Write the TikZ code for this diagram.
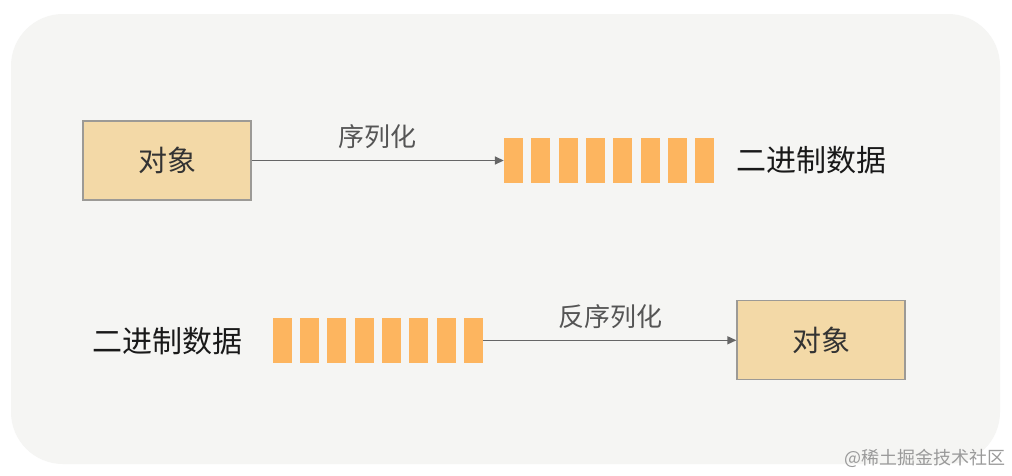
\documentclass[tikz,border=0pt]{standalone}
\usepackage{fontspec}
\newfontfamily\cjk{Noto Sans CJK SC}
\usetikzlibrary{arrows.meta}
\definecolor{bgc}{HTML}{F5F5F3}
\definecolor{boxfill}{HTML}{F3D9A7}
\definecolor{boxline}{HTML}{9C9A96}
\definecolor{barc}{HTML}{FDB55F}
\definecolor{arrc}{HTML}{666666}
\definecolor{lblc}{HTML}{555555}
\definecolor{objc}{HTML}{333333}
\definecolor{wmc}{HTML}{9A9A9A}
\tikzset{
  objbox/.style={draw=boxline, fill=boxfill, line width=1.3pt, minimum width=168pt, minimum height=79pt, inner sep=0pt, font=\cjk\fontsize{29}{32}\selectfont, text=objc},
  databar/.style={fill=barc, draw=none, minimum width=19pt, minimum height=45pt, inner sep=0pt},
  conn/.style={draw=arrc, line width=1.5pt, -{Triangle[length=9pt, width=8pt]}},
  lbl/.style={font=\cjk\fontsize{26}{28}\selectfont, text=lblc, inner sep=0pt},
  bintext/.style={font=\cjk\fontsize{30}{32}\selectfont, text=black!90, inner sep=0pt},
  wm/.style={font=\cjk\fontsize{18}{20}\selectfont, text=wmc, inner sep=0pt}
}
\begin{document}
\begin{tikzpicture}[x=1pt,y=-1pt]
\useasboundingbox (0,0) rectangle (1012,475);
\fill[white] (0,0) rectangle (1012,475);
\fill[bgc, rounded corners=52pt] (11,14) rectangle (1000,464);
% top row
\node[objbox] (obj1) at (167,160.5) {对象};
\foreach \i in {0,...,7} {
  \node[databar] (t\i) at (513.5+\i*27.3,160.5) {};
}
\draw[conn] (obj1.east) -- (t0.west);
\node[lbl] (l1) at (377,137) {序列化};
\node[bintext] (bin1) at (811,160.5) {二进制数据};
% bottom row
\node[bintext] (bin2) at (167,341) {二进制数据};
\foreach \i in {0,...,7} {
  \node[databar] (b\i) at (282.2+\i*27.3,340.3) {};
}
\node[objbox] (obj2) at (821,340.3) {对象};
\draw[conn] (b7.east) -- (obj2.west);
\node[lbl] (l2) at (610,317) {反序列化};
% watermark
\node[wm] (wmk) at (925,458) {@稀土掘金技术社区};
\end{tikzpicture}
\end{document}
